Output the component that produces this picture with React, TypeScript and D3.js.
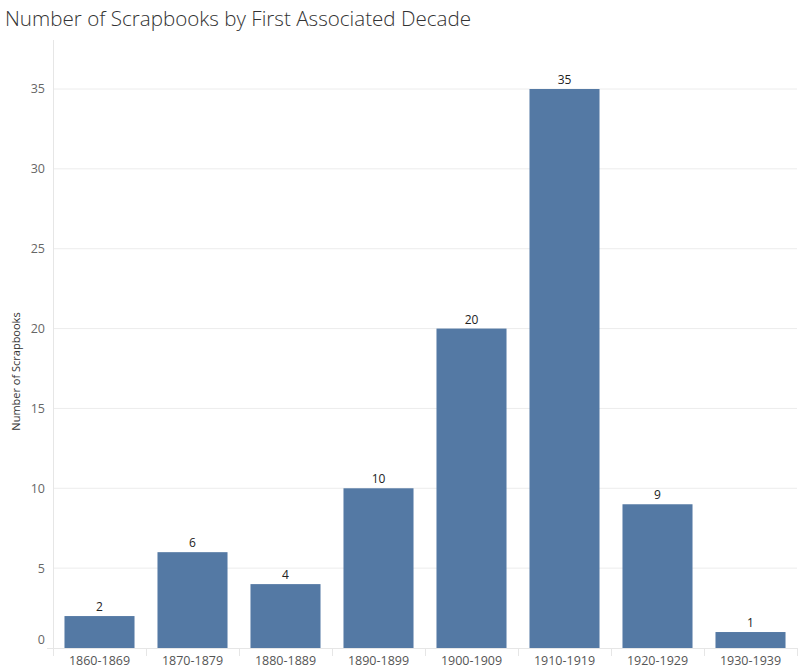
import React from "react";
import * as d3 from "d3";

const decades = ["1860-1869", "1870-1879", "1880-1889", "1890-1899", "1900-1909", "1910-1919", "1920-1929", "1930-1939"];
const counts = [2, 6, 4, 10, 20, 35, 9, 1];
const yTicks = [0, 5, 10, 15, 20, 25, 30, 35];

export default function App() {
  const W = 809, H = 672;
  const x0 = 53, x1 = 797, yBottom = 648, yTop = 89;
  const x = d3.scaleBand<string>().domain(decades).range([x0, x1]).paddingInner(0.247).paddingOuter(0.1235);
  const y = d3.scaleLinear().domain([0, 35]).range([yBottom, yTop]);
  const font = "'Open Sans', 'Noto Sans', sans-serif";
  const boundaries = d3.range(decades.length + 1).map(i => x0 + (i * (x1 - x0)) / decades.length);
  return (
    <svg width={W} height={H} style={{ position: "absolute", left: 0, top: 0, background: "#fff" }} fontFamily={font}>
      <text x={5} y={26} fontSize={20.6} fill="#333" fontWeight={300}>Number of Scrapbooks by First Associated Decade</text>
      {yTicks.map(t => (
        <g key={t}>
          {t > 0 && <line x1={x0} x2={x1} y1={y(t)} y2={y(t)} stroke="#ececec" strokeWidth={1} />}
          <text x={45} y={t === 0 ? y(t) - 8 : y(t)} dy="0.35em" textAnchor="end" fontSize={12.5} fill="#666">{t}</text>
        </g>
      ))}
      <line x1={x0 + 0.5} x2={x0 + 0.5} y1={40} y2={yBottom + 8} stroke="#e6e6e6" />
      <line x1={x0 - 6} x2={x1} y1={yBottom + 0.5} y2={yBottom + 0.5} stroke="#e6e6e6" />
      {boundaries.map((b, i) => (
        <line key={i} x1={b + 0.5} x2={b + 0.5} y1={yBottom} y2={yBottom + 8} stroke="#e6e6e6" />
      ))}
      {decades.map((d, i) => (
        <g key={d}>
          <rect x={x(d)} y={y(counts[i])} width={x.bandwidth()} height={yBottom - y(counts[i])} fill="#5479a4" />
          <text x={(x(d) as number) + x.bandwidth() / 2} y={y(counts[i]) - 5} textAnchor="middle" fontSize={12} fill="#222">{counts[i]}</text>
          <text x={(x(d) as number) + x.bandwidth() / 2} y={665} textAnchor="middle" fontSize={12.5} fill="#555">{d}</text>
        </g>
      ))}
      <text transform={`translate(20,${(yTop + yBottom) / 2 + 3}) rotate(-90)`} textAnchor="middle" fontSize={11} fill="#333">Number of Scrapbooks</text>
    </svg>
  );
}
